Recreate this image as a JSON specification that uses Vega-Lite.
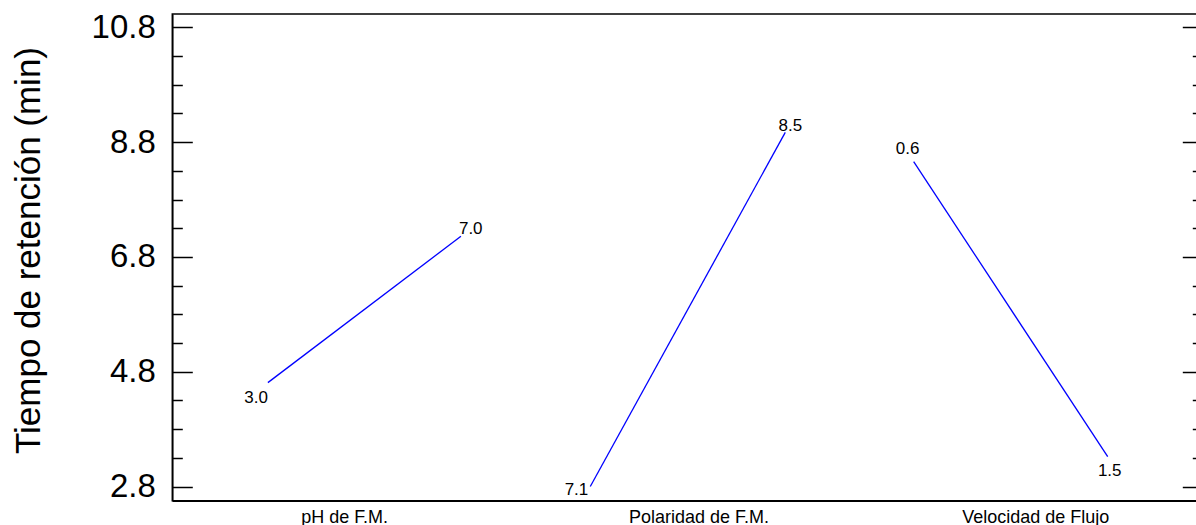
{
  "$schema": "https://vega.github.io/schema/vega-lite/v6.json",
  "width": 1030,
  "height": 486.7,
  "autosize": "none",
  "padding": {"left": 172.3, "top": 14, "right": -6, "bottom": 24.3},
  "background": "white",
  "config": {
    "view": {"stroke": "black", "strokeWidth": 1.5},
    "font": "Liberation Sans"
  },
  "data": {
    "values": [
      {"factor": "pH de F.M.", "level": "low", "pos": 0.99, "tr": 4.61, "label": "3.0"},
      {"factor": "pH de F.M.", "level": "high", "pos": 2.99, "tr": 7.16, "label": "7.0"},
      {"factor": "Polaridad de F.M.", "level": "low", "pos": 4.33, "tr": 2.80, "label": "7.1"},
      {"factor": "Polaridad de F.M.", "level": "high", "pos": 6.35, "tr": 8.97, "label": "8.5"},
      {"factor": "Velocidad de Flujo", "level": "low", "pos": 7.68, "tr": 8.46, "label": "0.6"},
      {"factor": "Velocidad de Flujo", "level": "high", "pos": 9.69, "tr": 3.32, "label": "1.5"}
    ]
  },
  "encoding": {
    "x": {
      "field": "pos",
      "type": "quantitative",
      "scale": {"domain": [0, 10.67], "nice": false, "zero": false},
      "axis": {
        "values": [1.78, 5.45, 8.94],
        "labelExpr": "datum.value < 3 ? 'pH de F.M.' : datum.value < 7 ? 'Polaridad de F.M.' : 'Velocidad de Flujo'",
        "ticks": false,
        "tickSize": 0,
        "grid": false,
        "title": null,
        "labelFontSize": 18,
        "labelColor": "black",
        "labelPadding": 8,
        "labelFlush": false,
        "labelOverlap": false,
        "domainColor": "black",
        "domainWidth": 1.5
      }
    }
  },
  "resolve": {"axis": {"y": "independent"}},
  "layer": [
    {
      "mark": {"type": "line", "color": "#0000ff", "strokeWidth": 1.3},
      "encoding": {
        "detail": {"field": "factor"},
        "y": {
          "field": "tr",
          "type": "quantitative",
          "scale": {"domain": [2.553, 11.032], "nice": false, "zero": false},
          "axis": {
            "orient": "left",
            "values": [2.8, 3.3, 3.8, 4.3, 4.8, 5.3, 5.8, 6.3, 6.8, 7.3, 7.8, 8.3, 8.8, 9.3, 9.8, 10.3, 10.8],
            "labelExpr": "abs((datum.value - 2.8) / 2 - round((datum.value - 2.8) / 2)) < 0.01 ? format(datum.value, '.1f') : ''",
            "tickSize": {"condition": {"test": "abs((datum.value - 2.8) / 2 - round((datum.value - 2.8) / 2)) < 0.01", "value": -20}, "value": -10},
            "tickColor": "black",
            "tickWidth": 1.5,
            "domainColor": "black",
            "domainWidth": 1.5,
            "grid": false,
            "labelFontSize": 33,
            "labelColor": "black",
            "labelPadding": 37,
            "labelFlush": false,
            "labelOverlap": false,
            "title": "Tiempo de retención (min)",
            "titleFontSize": 35,
            "titleFontWeight": "normal",
            "titleColor": "black",
            "titleBaseline": "middle",
            "titleX": -143.8,
            "titleY": 236
          }
        }
      }
    },
    {
      "transform": [{"filter": "datum.label == '3.0'"}],
      "mark": {"type": "text", "align": "right", "baseline": "alphabetic", "dx": 0, "dy": 20, "fontSize": 17, "color": "black"},
      "encoding": {
        "text": {"field": "label"},
        "y": {
          "field": "tr",
          "type": "quantitative",
          "axis": {
            "orient": "right",
            "values": [2.8, 3.3, 3.8, 4.3, 4.8, 5.3, 5.8, 6.3, 6.8, 7.3, 7.8, 8.3, 8.8, 9.3, 9.8, 10.3, 10.8],
            "labels": false,
            "tickSize": {"condition": {"test": "abs((datum.value - 2.8) / 2 - round((datum.value - 2.8) / 2)) < 0.01", "value": -20}, "value": -10},
            "tickColor": "black",
            "tickWidth": 1.5,
            "domainColor": "black",
            "domainWidth": 1.5,
            "grid": false,
            "title": null
          }
        }
      }
    },
    {
      "transform": [{"filter": "datum.label == '7.0'"}],
      "mark": {"type": "text", "align": "left", "baseline": "alphabetic", "dx": -2, "dy": -2, "fontSize": 17, "color": "black"},
      "encoding": {"text": {"field": "label"}, "y": {"field": "tr", "type": "quantitative", "axis": null}}
    },
    {
      "transform": [{"filter": "datum.label == '7.1'"}],
      "mark": {"type": "text", "align": "right", "baseline": "alphabetic", "dx": -2, "dy": 8, "fontSize": 17, "color": "black"},
      "encoding": {"text": {"field": "label"}, "y": {"field": "tr", "type": "quantitative", "axis": null}}
    },
    {
      "transform": [{"filter": "datum.label == '8.5'"}],
      "mark": {"type": "text", "align": "center", "baseline": "alphabetic", "dx": 5, "dy": -1.6, "fontSize": 17, "color": "black"},
      "encoding": {"text": {"field": "label"}, "y": {"field": "tr", "type": "quantitative", "axis": null}}
    },
    {
      "transform": [{"filter": "datum.label == '0.6'"}],
      "mark": {"type": "text", "align": "center", "baseline": "alphabetic", "dx": -6, "dy": -8, "fontSize": 17, "color": "black"},
      "encoding": {"text": {"field": "label"}, "y": {"field": "tr", "type": "quantitative", "axis": null}}
    },
    {
      "transform": [{"filter": "datum.label == '1.5'"}],
      "mark": {"type": "text", "align": "center", "baseline": "alphabetic", "dx": 2, "dy": 19, "fontSize": 17, "color": "black"},
      "encoding": {"text": {"field": "label"}, "y": {"field": "tr", "type": "quantitative", "axis": null}}
    }
  ]
}
